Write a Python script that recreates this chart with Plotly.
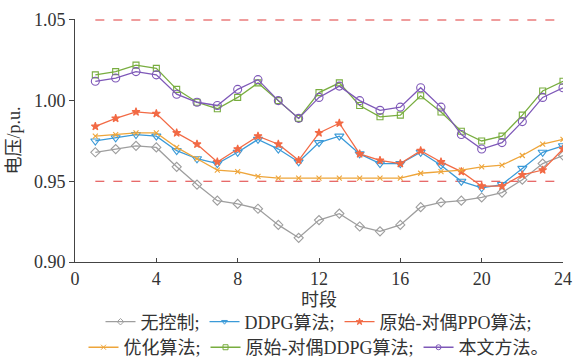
import plotly.graph_objects as go

# Time periods (hours)
periods = list(range(1, 25))

# Node voltage (p.u.) under each control strategy
v_none = [0.968, 0.970, 0.972, 0.971, 0.959, 0.948, 0.938, 0.936, 0.933, 0.923, 0.915, 0.926,
          0.930, 0.922, 0.919, 0.923, 0.934, 0.937, 0.938, 0.940, 0.943, 0.951, 0.961, 0.966]
v_ddpg = [0.975, 0.977, 0.979, 0.978, 0.969, 0.964, 0.961, 0.968, 0.976, 0.970, 0.962, 0.974,
          0.978, 0.967, 0.961, 0.961, 0.968, 0.960, 0.950, 0.946, 0.948, 0.958, 0.968, 0.972]
v_pd_ppo = [0.984, 0.989, 0.993, 0.992, 0.980, 0.973, 0.962, 0.970, 0.978, 0.973, 0.963, 0.980,
            0.986, 0.967, 0.963, 0.961, 0.969, 0.962, 0.956, 0.947, 0.947, 0.954, 0.957, 0.970]
v_opt = [0.978, 0.979, 0.980, 0.980, 0.971, 0.964, 0.957, 0.956, 0.953, 0.952, 0.952, 0.952,
         0.952, 0.952, 0.952, 0.952, 0.955, 0.956, 0.957, 0.959, 0.960, 0.966, 0.973, 0.976]
v_pd_ddpg = [1.016, 1.018, 1.022, 1.020, 1.007, 0.999, 0.995, 1.002, 1.011, 1.000, 0.989, 1.005,
             1.011, 0.997, 0.990, 0.991, 1.003, 0.993, 0.981, 0.975, 0.978, 0.991, 1.006, 1.012]
v_proposed = [1.012, 1.014, 1.018, 1.016, 1.004, 0.999, 0.997, 1.007, 1.013, 1.000, 0.989, 1.002,
              1.009, 1.000, 0.994, 0.996, 1.008, 0.996, 0.979, 0.970, 0.974, 0.987, 1.002, 1.008]

# Voltage limits
v_upper = 1.05
v_lower = 0.95
limit_span = [1, 24]

x_ticks = [0, 4, 8, 12, 16, 20, 24]
y_ticks = [0.90, 0.95, 1.00, 1.05]

FONT = "Liberation Serif, Times New Roman, Noto Sans CJK SC"
FS = 18

series = [
    ("无控制;", v_none, "#9e9e9e", "diamond-open", 7, "legend"),
    ("DDPG算法;", v_ddpg, "#3b9ad8", "triangle-down-open", 8, "legend"),
    ("原始-对偶PPO算法;", v_pd_ppo, "#f26a45", "star", 6, "legend"),
    ("优化算法;", v_opt, "#eea53a", "x-thin-open", 5, "legend2"),
    ("原始-对偶DDPG算法;", v_pd_ddpg, "#78ad3f", "square-open", 6, "legend2"),
    ("本文方法。", v_proposed, "#7e58b8", "circle-open", 8, "legend2"),
]

fig = go.Figure()

# Dashed voltage-limit lines
for lim in (v_upper, v_lower):
    fig.add_trace(go.Scatter(
        x=limit_span, y=[lim, lim], mode="lines",
        line=dict(color="#e03a3a", width=1.1, dash="dash"),
        showlegend=False, hoverinfo="skip"))

for name, vals, color, symbol, size, leg in series:
    fig.add_trace(go.Scatter(
        x=periods, y=vals, name=name, mode="lines+markers",
        line=dict(color=color, width=1.3),
        marker=dict(symbol=symbol, size=size, color=color,
                    line=dict(color=color, width=1.1)),
        showlegend=False))
    # Legend entry with a smaller marker glyph
    fig.add_trace(go.Scatter(
        x=[None], y=[None], name=name, mode="lines+markers",
        line=dict(color=color, width=1.3),
        marker=dict(symbol=symbol, size=5, color=color,
                    line=dict(color=color, width=1)),
        legend=leg, hoverinfo="skip"))

fig.update_layout(
    width=574, height=358,
    margin=dict(l=75, r=11, t=19, b=96, autoexpand=False),
    paper_bgcolor="white", plot_bgcolor="white",
    font=dict(family=FONT, size=FS, color="#333333"),
    xaxis=dict(
        range=[0, 24], tickvals=x_ticks, ticks="inside", ticklen=4,
        tickcolor="#444444", showline=True, linecolor="#444444", linewidth=1,
        showgrid=False, zeroline=False, mirror=False,
        title=dict(text="时段", font=dict(size=FS), standoff=5),
        tickfont=dict(size=FS)),
    yaxis=dict(
        range=[0.90, 1.0506], tickvals=y_ticks, tickformat=".2f", ticks="outside",
        ticklen=5, tickcolor="#444444", showline=True, linecolor="#444444",
        linewidth=1, showgrid=False, zeroline=False,
        title=dict(text="电压/p.u.", font=dict(size=FS), standoff=8),
        tickfont=dict(size=FS)),
    legend=dict(orientation="h", x=0.5, xanchor="center", y=-0.247,
                yanchor="middle", font=dict(size=FS), bgcolor="rgba(0,0,0,0)",
                itemwidth=30, tracegroupgap=0),
    legend2=dict(orientation="h", x=0.5, xanchor="center", y=-0.352,
                 yanchor="middle", font=dict(size=FS), bgcolor="rgba(0,0,0,0)",
                 itemwidth=30, tracegroupgap=0),
    showlegend=True,
)

fig.write_html("out.html")
